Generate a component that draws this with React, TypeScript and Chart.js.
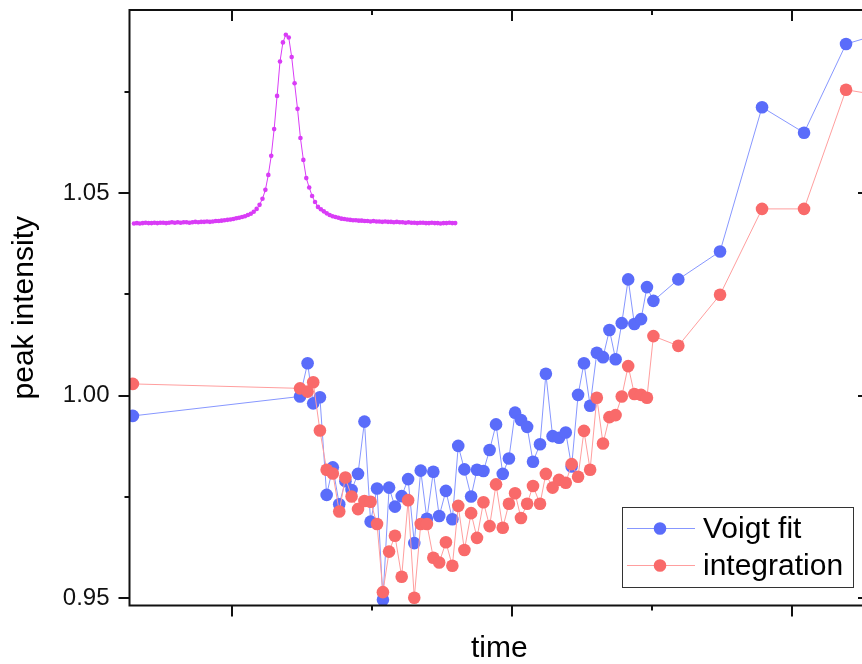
import React, { useEffect, useRef } from 'react';
import { Chart, registerables } from 'chart.js';

Chart.register(...registerables);

// ---- data ----
const times = [
  6.46, 12.43, 12.70, 12.90, 13.14, 13.38, 13.60, 13.83, 14.05, 14.27,
  14.50, 14.73, 14.95, 15.18, 15.39, 15.61, 15.82, 16.06, 16.29, 16.51,
  16.74, 16.96, 17.19, 17.40, 17.64, 17.87, 18.08, 18.30, 18.54, 18.75,
  18.98, 19.20, 19.43, 19.67, 19.89, 20.11, 20.32, 20.54, 20.75, 21.00,
  21.21, 21.45, 21.68, 21.92, 22.13, 22.36, 22.57, 22.79, 23.03, 23.25,
  23.48, 23.70, 23.92, 24.15, 24.37, 24.61, 24.82, 25.05, 25.94, 27.43,
  28.93, 30.43, 31.93, 33.43,
];

const voigtFit = [
  0.9950, 0.9998, 1.0080, 0.9981, 0.9996, 0.9755, 0.9823, 0.9732, 0.9789, 0.9767,
  0.9807, 0.9936, 0.9689, 0.9771, 0.9496, 0.9773, 0.9726, 0.9752, 0.9794, 0.9636,
  0.9815, 0.9696, 0.9812, 0.9703, 0.9765, 0.9695, 0.9876, 0.9818, 0.9751, 0.9817,
  0.9814, 0.9866, 0.9929, 0.9807, 0.9845, 0.9958, 0.9940, 0.9923, 0.9837, 0.9880,
  1.0054, 0.9900, 0.9896, 0.9909, 0.9825, 1.0002, 1.0080, 0.9975, 1.0106, 1.0095,
  1.0162, 1.0090, 1.0179, 1.0287, 1.0177, 1.0189, 1.0268, 1.0234, 1.0287, 1.0356,
  1.0712, 1.0649, 1.0868, 1.0899,
];

const integration = [
  1.0029, 1.0018, 1.0010, 1.0033, 0.9914, 0.9817, 0.9808, 0.9714, 0.9798, 0.9751,
  0.9720, 0.9740, 0.9738, 0.9683, 0.9515, 0.9615, 0.9654, 0.9553, 0.9742, 0.9501,
  0.9683, 0.9683, 0.9600, 0.9588, 0.9638, 0.9580, 0.9728, 0.9619, 0.9710, 0.9649,
  0.9737, 0.9678, 0.9781, 0.9674, 0.9733, 0.9759, 0.9698, 0.9733, 0.9777, 0.9733,
  0.9807, 0.9773, 0.9792, 0.9785, 0.9831, 0.9800, 0.9913, 0.9817, 0.9995, 0.9882,
  0.9947, 0.9952, 0.9998, 1.0073, 1.0004, 1.0002, 0.9995, 1.0147, 1.0123, 1.0249,
  1.0461, 1.0461, 1.0755, 1.0738,
];

// inset spectrum (one value per channel), plotted in the peak-intensity frame
const insetSpectrum = [
  1.0425, 1.0426, 1.0425, 1.0426, 1.0427, 1.0426, 1.0426, 1.0427, 1.0426, 1.0427,
  1.0427, 1.0426, 1.0427, 1.0428, 1.0427, 1.0428, 1.0427, 1.0428, 1.0428, 1.0427,
  1.0428, 1.0429, 1.0428, 1.0429, 1.0429, 1.0430, 1.0429, 1.0430, 1.0431, 1.0431,
  1.0432, 1.0433, 1.0434, 1.0435, 1.0436, 1.0438, 1.0439, 1.0441, 1.0443, 1.0446,
  1.0449, 1.0454, 1.0461, 1.0471, 1.0486, 1.0508, 1.0545, 1.0592, 1.0658, 1.0740,
  1.0825, 1.0872, 1.0891, 1.0884, 1.0836, 1.0771, 1.0708, 1.0636, 1.0582, 1.0537,
  1.0514, 1.0493, 1.0478, 1.0466, 1.0460, 1.0455, 1.0450, 1.0446, 1.0443, 1.0441,
  1.0439, 1.0437, 1.0436, 1.0435, 1.0434, 1.0433, 1.0433, 1.0432, 1.0432, 1.0431,
  1.0431, 1.0430, 1.0431, 1.0430, 1.0430, 1.0429, 1.0430, 1.0429, 1.0429, 1.0428,
  1.0429, 1.0428, 1.0428, 1.0427, 1.0428, 1.0427, 1.0427, 1.0426, 1.0427, 1.0427,
  1.0426, 1.0426, 1.0427, 1.0426, 1.0426, 1.0425, 1.0426, 1.0426, 1.0427, 1.0426,
  1.0426,
];

const yTickValues = [0.95, 1.0, 1.05];
const yMinorTicks = [0.975, 1.025, 1.075];
const xMajorTicks = [10, 20, 30];
const xMinorTicks = [15, 25];

const FONT = '"Liberation Sans", Arial, Helvetica, sans-serif';
const BLUE = '#5A6CFA';
const BLUE_LINE = '#8797FF';
const RED = '#F96A6A';
const RED_LINE = '#FF9E9E';
const PURPLE = '#D93CF6';

const framePlugin = {
  id: 'originFrame',
  afterDatasetsDraw(chart: any) {
    const { ctx, chartArea } = chart;
    const { left, right, top, bottom } = chartArea;
    const x = chart.scales.x;
    const y = chart.scales.y;
    ctx.save();
    ctx.strokeStyle = '#111';
    ctx.lineWidth = 2;
    ctx.strokeRect(left, top, right - left, bottom - top);
    ctx.beginPath();
    const xt = (vals: number[], len: number) => {
      for (const v of vals) {
        const px = Math.round(x.getPixelForValue(v));
        ctx.moveTo(px, bottom);
        ctx.lineTo(px, bottom + len);
        ctx.moveTo(px, top);
        ctx.lineTo(px, top + len);
      }
    };
    const yt = (vals: number[], len: number) => {
      for (const v of vals) {
        const py = Math.round(y.getPixelForValue(v));
        ctx.moveTo(left, py);
        ctx.lineTo(left - len, py);
        ctx.moveTo(right, py);
        ctx.lineTo(right - len, py);
      }
    };
    xt(xMajorTicks, 11);
    xt(xMinorTicks, 5);
    yt(yTickValues, 11);
    yt(yMinorTicks, 5);
    ctx.stroke();
    ctx.restore();
  },
};

const legendPlugin = {
  id: 'boxLegend',
  afterDraw(chart: any) {
    const { ctx, chartArea } = chart;
    const w = 231;
    const h = 80;
    const bx = Math.round(chartArea.right - 16 - w);
    const by = Math.round(chartArea.bottom - 18.5 - h);
    ctx.save();
    ctx.fillStyle = '#fff';
    ctx.fillRect(bx, by, w, h);
    ctx.strokeStyle = '#333';
    ctx.lineWidth = 1;
    ctx.strokeRect(bx + 0.5, by + 0.5, w, h);
    const items = chart.data.datasets.filter((d: any) => d.showInLegend);
    items.forEach((d: any, k: number) => {
      const cy = by + 21.5 + k * 37;
      ctx.strokeStyle = d.borderColor;
      ctx.lineWidth = 1;
      ctx.beginPath();
      ctx.moveTo(bx + 5, cy);
      ctx.lineTo(bx + 73, cy);
      ctx.stroke();
      ctx.fillStyle = d.pointBackgroundColor;
      ctx.beginPath();
      ctx.arc(bx + 38, cy, d.pointRadius, 0, Math.PI * 2);
      ctx.fill();
      ctx.fillStyle = '#000';
      ctx.font = `30px ${FONT}`;
      ctx.textAlign = 'left';
      ctx.textBaseline = 'alphabetic';
      ctx.fillText(d.label, bx + 81, cy + 9.5);
    });
    ctx.restore();
  },
};

export default function App() {
  const ref = useRef<HTMLCanvasElement>(null);

  useEffect(() => {
    if (!ref.current) return;
    const xMin = 10 - 102.5 / 28;
    const xMax = xMin + 739.5 / 28;
    const chart = new Chart(ref.current, {
      type: 'line',
      data: {
        datasets: [
          {
            label: 'Voigt fit',
            showInLegend: true,
            data: times.map((t, i) => ({ x: t, y: voigtFit[i] })),
            xAxisID: 'x',
            yAxisID: 'y',
            borderColor: BLUE_LINE,
            borderWidth: 1,
            pointRadius: 6.3,
            pointHoverRadius: 6.3,
            pointBackgroundColor: BLUE,
            pointBorderWidth: 0,
            tension: 0,
            order: 1,
          } as any,
          {
            label: 'integration',
            showInLegend: true,
            data: times.map((t, i) => ({ x: t, y: integration[i] })),
            xAxisID: 'x',
            yAxisID: 'y',
            borderColor: RED_LINE,
            borderWidth: 1,
            pointRadius: 6.3,
            pointHoverRadius: 6.3,
            pointBackgroundColor: RED,
            pointBorderWidth: 0,
            tension: 0,
            order: 0,
          } as any,
          {
            label: 'spectrum',
            showInLegend: false,
            data: insetSpectrum.map((v, i) => ({ x: i, y: v })),
            xAxisID: 'xi',
            yAxisID: 'y',
            borderColor: PURPLE,
            borderWidth: 1,
            pointRadius: 2.3,
            pointHoverRadius: 2.3,
            pointBackgroundColor: PURPLE,
            pointBorderWidth: 0,
            tension: 0,
            order: 2,
          } as any,
        ],
      },
      options: {
        responsive: false,
        animation: false,
        devicePixelRatio: 1,
        events: [],
        layout: { padding: { top: 10, right: 11, left: 0, bottom: 0 } },
        plugins: {
          legend: { display: false },
          tooltip: { enabled: false },
        },
        scales: {
          x: {
            type: 'linear',
            position: 'bottom',
            min: xMin,
            max: xMax,
            grid: { display: false, drawTicks: false },
            border: { display: false },
            ticks: { display: false },
            title: {
              display: true,
              text: 'time',
              color: '#000',
              font: { family: FONT, size: 30, lineHeight: 1 },
              padding: 0,
            },
            afterFit(s: any) {
              s.height = 58.5;
              s.paddingLeft = 0;
              s.paddingRight = 0;
            },
          },
          xi: {
            type: 'linear',
            display: false,
            min: -4.5 / 2.92,
            max: -4.5 / 2.92 + 739.5 / 2.92,
          },
          y: {
            type: 'linear',
            position: 'left',
            min: 0.9482,
            max: 1.0952,
            grid: { display: false, drawTicks: false },
            border: { display: false },
            afterBuildTicks(s: any) {
              s.ticks = yTickValues.map((v) => ({ value: v }));
            },
            ticks: {
              color: '#111',
              padding: 20,
              font: { family: FONT, size: 24 },
              callback: (v: any) => Number(v).toFixed(2),
            },
            title: {
              display: true,
              text: 'peak intensity',
              color: '#000',
              font: { family: FONT, size: 30, lineHeight: 1 },
              padding: { top: 10, bottom: 0 },
            },
            afterFit(s: any) {
              s.width = 129.5;
              s.paddingTop = 0;
              s.paddingBottom = 0;
            },
          },
        },
      } as any,
      plugins: [framePlugin, legendPlugin],
    });
    return () => chart.destroy();
  }, []);

  return (
    <div
      style={{
        position: 'fixed',
        left: 0,
        top: 0,
        width: 862,
        height: 664,
        overflow: 'hidden',
        background: '#fff',
      }}
    >
      <canvas
        ref={ref}
        width={880}
        height={664}
        style={{ display: 'block', width: 880, height: 664 }}
      />
    </div>
  );
}
